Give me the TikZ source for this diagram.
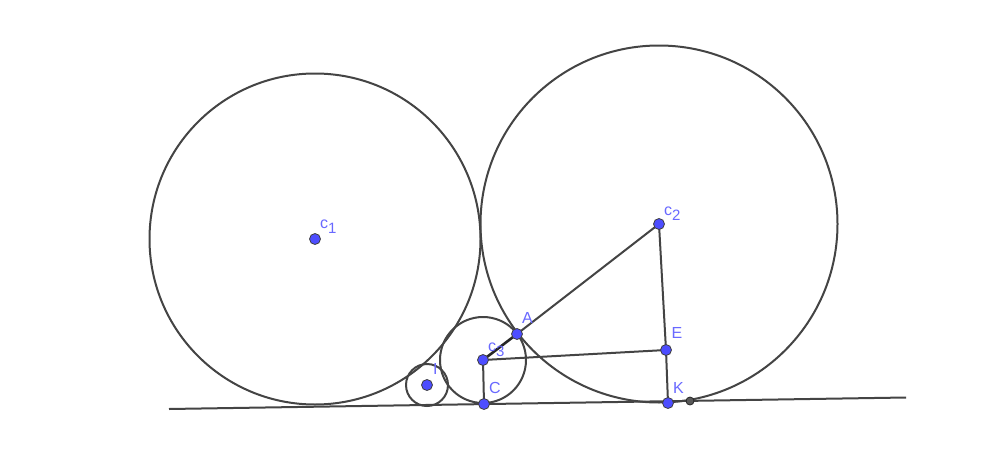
\documentclass[tikz,border=0pt]{standalone}
\usepackage{fontspec}
\setmainfont{Liberation Sans}
\usetikzlibrary{positioning}
\definecolor{trait}{RGB}{68,68,68}
\definecolor{pointbleu}{RGB}{77,77,255}
\definecolor{texte}{RGB}{105,105,255}
\tikzset{
	pt/.style={circle, fill=pointbleu, draw=black!75, line width=0.8pt, inner sep=0pt, minimum size=11pt},
	ptnoir/.style={circle, fill=black!65, draw=black!85, line width=0.8pt, inner sep=0pt, minimum size=8pt},
	lbl/.style={text=texte, inner sep=0pt, anchor=base west, font=\fontsize{16}{16}\selectfont},
}
\newcommand{\indice}[2]{#1\raisebox{-5pt}{\fontsize{15}{15}\selectfont #2}}

\begin{document}
\begin{tikzpicture}[x=1pt, y=-1pt, line width=2pt, draw=trait]
	\useasboundingbox (0, 0) rectangle (1001, 463);
	\fill[white] (0, 0) rectangle (1001, 463);

	\coordinate (c1) at (315, 239);
	\coordinate (c2) at (659, 224);
	\coordinate (c3) at (483, 360);
	\coordinate (I) at (427, 385);
	\coordinate (A) at (517, 334);
	\coordinate (E) at (666, 350);
	\coordinate (C) at (484, 404);
	\coordinate (K) at (668, 403);
	\coordinate (P) at (690, 401);
	\coordinate (g1) at (169, 409);
	\coordinate (g2) at (906, 397.5);

	% cercles
	\draw (c1) circle (165.5pt);
	\draw (c2) circle (178.5pt);
	\draw (c3) circle (43pt);
	\draw (I) circle (21pt);

	% droite et segments
	\draw (g1) -- (g2);
	\draw (A) -- (c2);
	\draw[line width=2.6pt, black!85] (c3) -- (A);
	\draw (c2) -- (E) -- (K);
	\draw (c3) -- (E);
	\draw (c3) -- (C);

	% points
	\node[pt] (pc1) at (c1) {};
	\node[pt] (pc2) at (c2) {};
	\node[pt] (pc3) at (c3) {};
	\node[pt] (pI) at (I) {};
	\node[pt] (pA) at (A) {};
	\node[pt] (pE) at (E) {};
	\node[pt] (pC) at (C) {};
	\node[pt] (pK) at (K) {};
	\node[ptnoir] (pP) at (P) {};

	\node[lbl] (lc1) at (319, 228) {\indice{c}{1}};
	\node[lbl] (lc2) at (663, 215) {\indice{c}{2}};
	\node[lbl] (lc3) at (487, 351) {\indice{c}{3}};
	\node[lbl] (lI) at (432, 374.5) {I};
	\node[lbl] (lA) at (521, 323.5) {A};
	\node[lbl] (lE) at (670.5, 338.5) {E};
	\node[lbl] (lC) at (488, 393.5) {C};
	\node[lbl] (lK) at (672, 393.5) {K};
\end{tikzpicture}
\end{document}
